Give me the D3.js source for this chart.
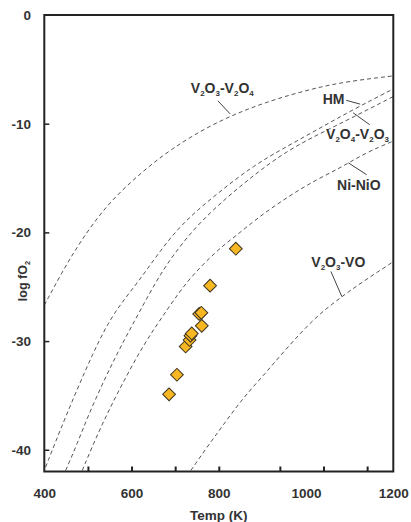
<!DOCTYPE html>
<html>
<head>
<meta charset="utf-8">
<script src="https://cdn.jsdelivr.net/npm/d3@7"></script>
<style>
  body { margin: 0; background: #fff; }
  svg { display: block; }
</style>
</head>
<body>
<script>
// tick values and labels
const xTickVals = [500, 600, 700, 800, 940, 1040, 1140];
const xLabels = [400, 600, 800, 1000, 1200];
const yTickVals = [-10, -20, -30, -40];
const yLabels = [0, -10, -20, -30, -40];

// buffer curves, [Temp (K), log fO2]
const v2o3V2o4 = [[400, -26.7], [440, -23.7], [480, -21.0], [540, -17.6], [610, -14.9], [690, -12.3],
  [795, -9.8], [906, -8.0], [1021, -6.7], [1097, -6.1], [1200, -5.6]];
const hm = [[403, -41.6], [445, -37.3], [514, -30.8], [560, -27.3], [613, -24.7], [667, -21.6],
  [720, -19.0], [797, -16.4], [881, -13.8], [956, -12.1], [1032, -10.4], [1108, -8.7], [1200, -6.8]];
const v2o4V2o3 = [[449, -41.9], [476, -39.4], [499, -37.0], [537, -33.6], [575, -30.5], [621, -27.1],
  [674, -23.2], [743, -19.6], [812, -17.0], [881, -14.7], [956, -12.5], [1032, -10.9], [1108, -9.4], [1200, -7.5]];
const niNio = [[487, -41.9], [529, -37.9], [575, -34.2], [629, -30.2], [682, -27.1], [728, -24.4],
  [797, -21.6], [837, -20.4], [891, -18.6], [959, -16.7], [1021, -15.2], [1082, -14.0], [1135, -12.7], [1200, -11.6]];
const v2o3Vo = [[736, -41.9], [774, -39.7], [807, -37.9], [852, -35.4], [906, -33.0], [959, -30.5],
  [1021, -27.8], [1082, -25.9], [1135, -24.4], [1200, -22.7]];

// samples
const sampleTemp = [839, 780, 760, 755, 761, 738, 735, 733, 724, 704, 686];
const sampleLogfO2 = [-21.5, -24.9, -27.4, -27.5, -28.6, -29.3, -29.5, -29.9, -30.5, -33.1, -34.9];

// curve labels: text centre and leader line ends, in data units
const curveLabels = [
  { parts: [["V", 0], ["2", 1], ["O", 0], ["3", 1], ["-V", 0], ["2", 1], ["O", 0], ["4", 1]], t: 808, l: -6.75, lead: [[798, -7.9], [826, -9.1]] },
  { parts: [["HM", 0]], t: 1063, l: -7.75, lead: [[1092, -7.85], [1124, -8.2]] },
  { parts: [["V", 0], ["2", 1], ["O", 0], ["4", 1], ["-V", 0], ["2", 1], ["O", 0], ["3", 1]], t: 1118, l: -10.95, lead: [[1146, -10.1], [1108, -9.0]] },
  { parts: [["Ni-NiO", 0]], t: 1121, l: -15.6, lead: [[1139, -14.7], [1097, -13.6]] },
  { parts: [["V", 0], ["2", 1], ["O", 0], ["3", 1], ["-VO", 0]], t: 1074, l: -22.7, lead: [[1057, -23.6], [1082, -25.9]] }
];

const W = 411, H = 522;
const font = "'Liberation Sans', Arial, sans-serif";
const ink = "#333";

const svg = d3.select("body").append("svg").attr("width", W).attr("height", H);

const x = d3.scaleLinear().domain([400, 1200]).range([44.3, 393.3]);
const y = d3.scaleLinear().domain([-42, 0]).range([471.5, 15]);

svg.append("defs").append("clipPath").attr("id", "plot")
  .append("rect")
  .attr("x", x(400)).attr("y", y(0))
  .attr("width", x(1200) - x(400)).attr("height", y(-42) - y(0));

// dashed buffer curves
const line = d3.line()
  .x(d => x(d[0]))
  .y(d => y(d[1]))
  .curve(d3.curveBasis);

svg.append("g")
  .attr("clip-path", "url(#plot)")
  .selectAll("path")
  .data([v2o3V2o4, hm, v2o4V2o3, niNio, v2o3Vo])
  .join("path")
  .attr("d", line)
  .attr("fill", "none")
  .attr("stroke", "#555")
  .attr("stroke-width", 1)
  .attr("stroke-dasharray", "4,3");

// leader lines and labels
svg.append("g").selectAll("line")
  .data(curveLabels)
  .join("line")
  .attr("x1", d => x(d.lead[0][0])).attr("y1", d => y(d.lead[0][1]))
  .attr("x2", d => x(d.lead[1][0])).attr("y2", d => y(d.lead[1][1]))
  .attr("stroke", "#444")
  .attr("stroke-width", 1);

const lbl = svg.append("g").selectAll("text")
  .data(curveLabels)
  .join("text")
  .attr("x", d => x(d.t))
  .attr("y", d => y(d.l) + 5)
  .attr("text-anchor", "middle")
  .attr("font-family", font)
  .attr("font-weight", "bold")
  .attr("font-size", 14)
  .attr("fill", ink);

lbl.each(function(d) {
  const t = d3.select(this);
  let down = 0;
  d.parts.forEach(p => {
    const shift = p[1] ? 3 : 0;
    t.append("tspan")
      .attr("dy", shift - down)
      .attr("font-size", p[1] ? 8 : 14)
      .text(p[0]);
    down = shift;
  });
});

// samples
svg.append("g").selectAll("path")
  .data(sampleTemp.map((t, i) => [t, sampleLogfO2[i]]).reverse())
  .join("path")
  .attr("d", d3.symbol(d3.symbolSquare, 82))
  .attr("transform", d => `translate(${x(d[0])},${y(d[1])}) rotate(45)`)
  .attr("fill", "#F6B722")
  .attr("stroke", "#3b3220")
  .attr("stroke-width", 1);

// ticks pointing inward
const xt = svg.append("g")
  .attr("transform", `translate(0,${y(-42)})`)
  .call(d3.axisBottom(x).tickValues(xTickVals).tickSize(-5).tickFormat(""));
xt.select(".domain").remove();
xt.selectAll("line").attr("stroke", "#222").attr("stroke-width", 2);

const yt = svg.append("g")
  .attr("transform", `translate(${x(400)},0)`)
  .call(d3.axisLeft(y).tickValues(yTickVals).tickSize(-5).tickFormat(""));
yt.select(".domain").remove();
yt.selectAll("line").attr("stroke", "#222").attr("stroke-width", 1.5);

// tick labels
const xl = svg.append("g")
  .attr("transform", `translate(0,${y(-42)})`)
  .call(d3.axisBottom(x).tickValues(xLabels).tickSize(0).tickPadding(17).tickFormat(d => String(d)));
xl.select(".domain").remove();
xl.selectAll("text")
  .attr("font-family", font).attr("font-weight", "bold").attr("font-size", 13.5).attr("fill", ink);

const yl = svg.append("g")
  .attr("transform", `translate(${x(400)},0)`)
  .call(d3.axisLeft(y).tickValues(yLabels).tickSize(0).tickPadding(13.3).tickFormat(d => String(d)));
yl.select(".domain").remove();
yl.selectAll("text")
  .attr("font-family", font).attr("font-weight", "bold").attr("font-size", 13.5).attr("fill", ink);

// frame
svg.append("rect")
  .attr("x", x(400)).attr("y", y(0))
  .attr("width", x(1200) - x(400)).attr("height", y(-42) - y(0))
  .attr("fill", "none")
  .attr("stroke", "#222")
  .attr("stroke-width", 2);

// axis titles
svg.append("text")
  .attr("x", x(800)).attr("y", 520)
  .attr("text-anchor", "middle")
  .attr("font-family", font).attr("font-weight", "bold").attr("font-size", 13.5).attr("fill", ink)
  .text("Temp (K)");

const yTitle = svg.append("text")
  .attr("transform", "translate(27,281) rotate(-90)")
  .attr("text-anchor", "middle")
  .attr("font-family", font).attr("font-weight", "bold").attr("font-size", 12.5).attr("fill", ink);
yTitle.append("tspan").text("log fO");
yTitle.append("tspan").attr("dy", 3).attr("font-size", 7.5).text("2");
</script>
</body>
</html>
